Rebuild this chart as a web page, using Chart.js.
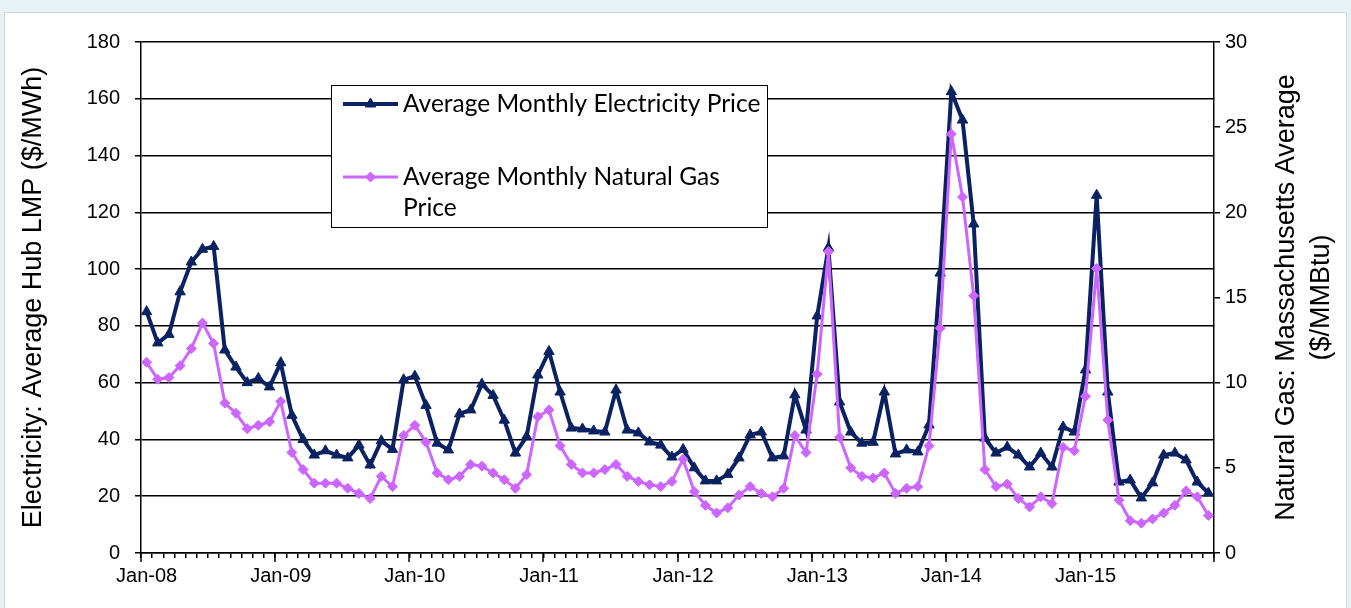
<!DOCTYPE html>
<html>
<head>
<meta charset="utf-8">
<script src="https://cdn.jsdelivr.net/npm/chart.js@4.4.0/dist/chart.umd.min.js"></script>
<style>
  html, body { margin: 0; padding: 0; background: #e7f2f5; overflow: hidden; }
  #card { position: absolute; left: 4px; top: 12px; width: 1341px; height: 640px; background: #fff; border: 1px solid #cfd9dc; }
  #wrap { position: absolute; left: 0; top: 0; width: 1351px; height: 608px; }
</style>
</head>
<body>
<div id="card"></div>
<div id="wrap"><canvas id="chart"></canvas></div>
<script>
const years = ['08', '09', '10', '11', '12', '13', '14', '15'];
const monthNames = ['Jan', 'Feb', 'Mar', 'Apr', 'May', 'Jun', 'Jul', 'Aug', 'Sep', 'Oct', 'Nov', 'Dec'];
const labels = [];
years.forEach(y => monthNames.forEach(m => labels.push(m + '-' + y)));

// $/MWh, left axis
const electricity = [
  85, 74, 77, 92, 102.5, 107, 108, 71.5, 65.5, 60, 61.5, 58.5,
  67, 48.5, 40, 34.5, 36, 34.5, 33.5, 38, 31, 39.5, 36.5, 61,
  62.3, 52, 38.7, 36.3, 49, 50.4, 59.5, 55.5, 46.8, 35.2, 41, 62.7,
  71, 56.7, 44, 43.7, 43, 42.6, 57.4, 43.3, 42.3, 39.1, 38, 33.8,
  36.5, 30, 25.4, 25.4, 27.7, 33.5, 41.6, 42.6, 33.5, 34.2, 55.7, 43.3,
  83.5, 107.5, 53.2, 42.6, 38.7, 39, 56.7, 34.9, 36.3, 35.6, 45.1, 98.6,
  162.5, 152.5, 115.9, 40.5, 35.2, 37.3, 34.5, 30.3, 35.2, 30.3, 44.4, 42.6,
  64.5, 126, 56.7, 25, 25.7, 19.4, 24.7, 34.5, 35.2, 32.8, 25, 21.1
];

// $/MMBtu, right axis
const naturalGas = [
  11.2, 10.2, 10.3, 11.0, 12.0, 13.5, 12.3, 8.8, 8.2, 7.3, 7.5, 7.7,
  8.9, 5.9, 4.9, 4.1, 4.1, 4.1, 3.8, 3.5, 3.2, 4.5, 3.9, 6.9,
  7.5, 6.5, 4.7, 4.3, 4.5, 5.2, 5.1, 4.7, 4.3, 3.8, 4.6, 8.0,
  8.4, 6.3, 5.2, 4.7, 4.7, 4.9, 5.2, 4.5, 4.2, 4.0, 3.9, 4.2,
  5.5, 3.6, 2.8, 2.35, 2.65, 3.4, 3.9, 3.5, 3.3, 3.8, 6.9, 5.9,
  10.5, 17.7, 6.8, 5.0, 4.5, 4.4, 4.7, 3.5, 3.8, 3.9, 6.3, 13.2,
  24.6, 20.9, 15.1, 4.9, 3.9, 4.05, 3.2, 2.7, 3.3, 2.9, 6.2, 6.0,
  9.2, 16.7, 7.8, 3.1, 1.9, 1.75, 2.0, 2.35, 2.8, 3.65, 3.3, 2.2
];

const leftTitle = 'Electricity: Average Hub LMP ($/MWh)';
const rightTitle = ['Natural Gas: Massachusetts Average', '($/MMBtu)'];
const legendLines = [['Average Monthly Electricity Price'], ['Average Monthly Natural Gas', 'Price']];

const navy = '#0b2262';
const violet = '#cc66ff';
const sans = '"Liberation Sans", Arial, sans-serif';
const axisFont = { family: sans, size: 20 };

// longer year ticks on the x axis
const yearTicks = {
  id: 'yearTicks',
  afterDraw(chart) {
    const ctx = chart.ctx, xs = chart.scales.x;
    ctx.save();
    ctx.strokeStyle = '#000';
    ctx.lineWidth = 1.5;
    for (let i = 0; i <= labels.length; i += 12) {
      const px = Math.round(xs.getPixelForValue(i - 0.5));
      ctx.beginPath();
      ctx.moveTo(px, xs.top);
      ctx.lineTo(px, xs.top + 9);
      ctx.stroke();
    }
    ctx.restore();
  }
};

// right axis title reads bottom-to-top, like Excel
const rightTitlePlugin = {
  id: 'rightTitle',
  afterDraw(chart) {
    const ctx = chart.ctx, a = chart.chartArea;
    ctx.save();
    ctx.fillStyle = '#000';
    ctx.font = '27px ' + sans;
    ctx.textAlign = 'center';
    ctx.textBaseline = 'middle';
    const cy = (a.top + a.bottom) / 2;
    rightTitle.forEach((t, i) => {
      ctx.save();
      ctx.translate(a.right + 73 + i * 35, cy);
      ctx.rotate(-Math.PI / 2);
      ctx.fillText(t, 0, 0);
      ctx.restore();
    });
    ctx.restore();
  }
};

// boxed legend inside the plot
const boxLegend = {
  id: 'boxLegend',
  afterDraw(chart) {
    const ctx = chart.ctx, a = chart.chartArea;
    const bx = a.left + 190, by = a.top + 43, bw = 436, bh = 142;
    ctx.save();
    ctx.fillStyle = '#fff';
    ctx.fillRect(bx, by, bw, bh);
    ctx.strokeStyle = '#000';
    ctx.lineWidth = 1;
    ctx.strokeRect(bx + 0.5, by + 0.5, bw, bh);
    ctx.font = '24.5px Lato, "Open Sans", sans-serif';
    ctx.textBaseline = 'middle';
    const rows = [by + 19, by + 92];
    chart.data.datasets.forEach((ds, i) => {
      const y = rows[i];
      ctx.strokeStyle = ds.borderColor;
      ctx.lineWidth = i === 0 ? 4 : 3;
      ctx.beginPath();
      ctx.moveTo(bx + 12, y);
      ctx.lineTo(bx + 67, y);
      ctx.stroke();
      ctx.fillStyle = ds.pointBackgroundColor;
      ctx.strokeStyle = ds.borderColor;
      ctx.lineWidth = 1;
      Chart.helpers.drawPoint(ctx, { pointStyle: ds.pointStyle, radius: ds.pointRadius, rotation: 0, borderWidth: 1 }, bx + 39.5, y);
      ctx.fillStyle = '#000';
      legendLines[i].forEach((t, k) => ctx.fillText(t, bx + 72, y + k * 31));
    });
    ctx.restore();
  }
};

new Chart(document.getElementById('chart'), {
  type: 'line',
  data: {
    labels: labels,
    datasets: [
      {
        label: legendLines[0].join(' '),
        data: electricity,
        yAxisID: 'y',
        borderColor: navy,
        backgroundColor: navy,
        pointBackgroundColor: navy,
        borderWidth: 4,
        pointStyle: 'triangle',
        pointRadius: 6,
        pointBorderWidth: 1,
        tension: 0,
        order: 2
      },
      {
        label: legendLines[1].join(' '),
        data: naturalGas,
        yAxisID: 'y1',
        borderColor: violet,
        backgroundColor: violet,
        pointBackgroundColor: violet,
        borderWidth: 3,
        pointStyle: 'rectRot',
        pointRadius: 5,
        pointBorderWidth: 1,
        tension: 0,
        order: 1
      }
    ]
  },
  options: {
    responsive: true,
    maintainAspectRatio: false,
    animation: false,
    layout: { padding: { left: 0, right: 0, top: 42, bottom: 0 } },
    plugins: { legend: { display: false }, tooltip: { enabled: false } },
    scales: {
      x: {
        offset: true,
        grid: { offset: true, drawOnChartArea: false, color: '#000', lineWidth: 1.5, tickLength: 5 },
        border: { color: '#000', width: 1.5 },
        ticks: {
          autoSkip: false,
          maxRotation: 0,
          color: '#000',
          font: axisFont,
          padding: 6,
          callback: (v, i) => (i % 12 === 0 ? labels[i] : '')
        },
        afterFit: s => { s.height = 55; }
      },
      y: {
        position: 'left',
        min: 0,
        max: 180,
        ticks: { stepSize: 20, color: '#000', font: axisFont, padding: 15 },
        grid: { color: '#000', lineWidth: 1.5, tickLength: 6 },
        border: { color: '#000', width: 1.5 },
        title: {
          display: true,
          text: leftTitle,
          color: '#000',
          font: { family: sans, size: 27 },
          padding: { top: 17, bottom: 0 }
        },
        afterFit: s => { s.width = 141; }
      },
      y1: {
        position: 'right',
        min: 0,
        max: 30,
        ticks: { stepSize: 5, color: '#000', font: axisFont, padding: 5 },
        grid: { drawOnChartArea: false, color: '#000', lineWidth: 1.5, tickLength: 6 },
        border: { color: '#000', width: 1.5 },
        afterFit: s => { s.width = 137; }
      }
    }
  },
  plugins: [yearTicks, rightTitlePlugin, boxLegend]
});
</script>
</body>
</html>
